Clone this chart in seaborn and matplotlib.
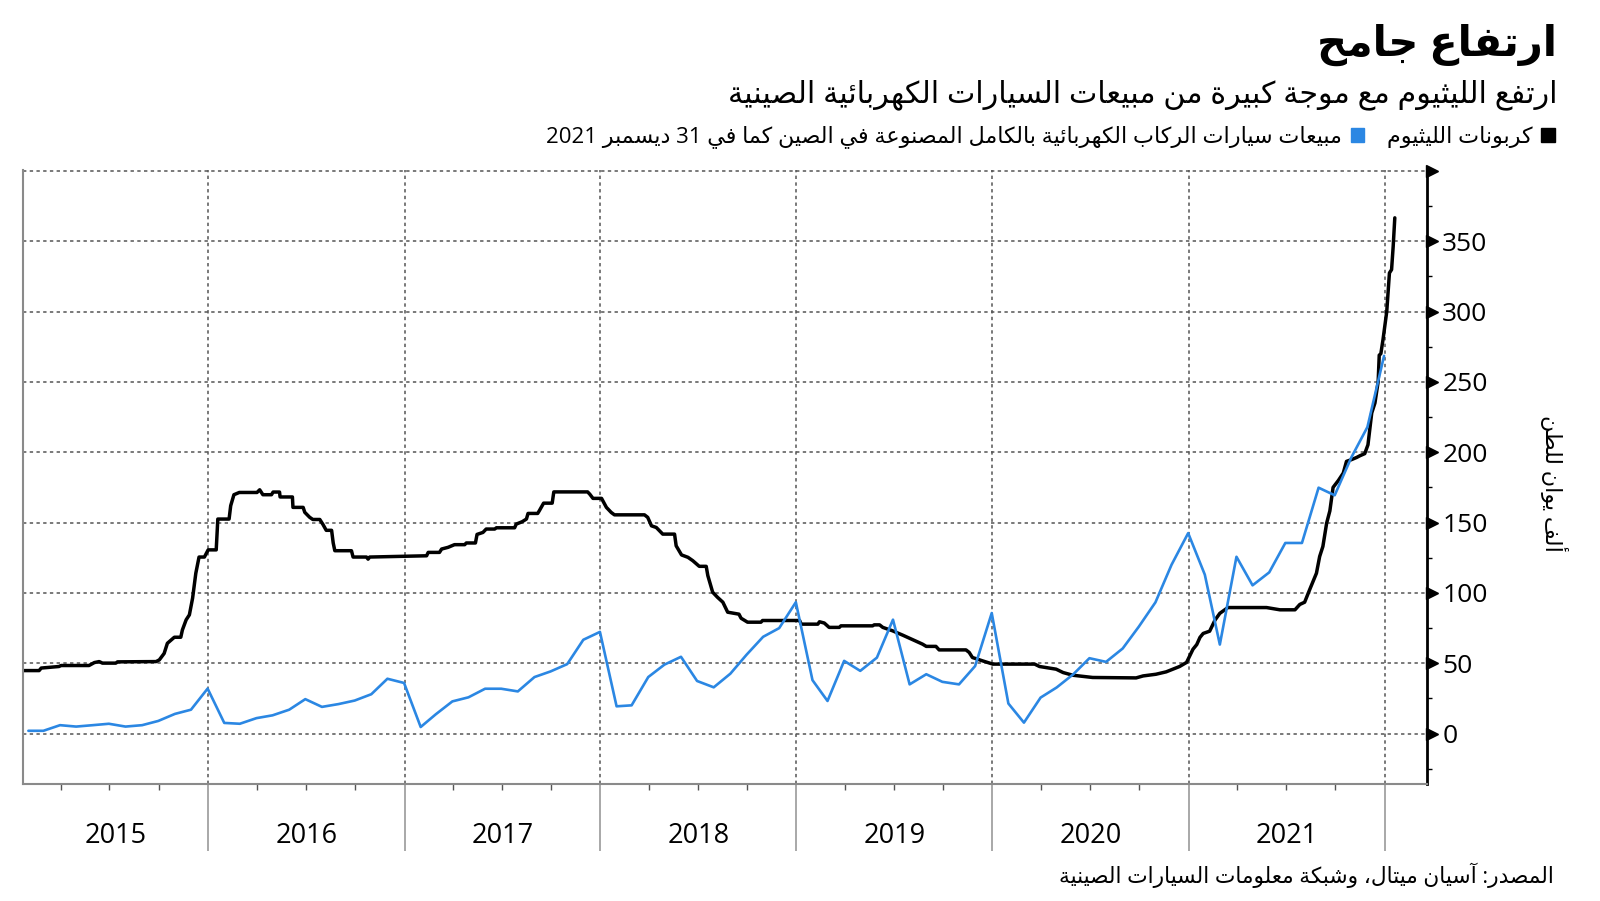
import re
import numpy as np
import pandas as pd
import seaborn as sns
import matplotlib
matplotlib.use("Agg")
import matplotlib.pyplot as plt
import matplotlib.dates as mdates
from matplotlib.patches import Patch
from matplotlib.ticker import FixedLocator, NullFormatter
from matplotlib.transforms import offset_copy

# --- data -------------------------------------------------------------
# monthly EV passenger car sales (thousands), Jan 2015 .. Dec 2021
ev_months = pd.date_range("2015-01-31", "2021-12-31", freq="ME")
ev_sales = [
    2, 2, 6, 5, 6, 7, 5, 6, 9, 14, 17, 32,
    7.6, 7, 11, 13, 17, 24.5, 19, 21, 23.5, 28, 39, 36,
    4.7, 13.7, 22.9, 25.8, 31.9, 31.9, 30, 40.2, 44.2, 49.4, 66.7, 72.3,
    19.4, 20.1, 40.2, 49, 54.6, 37.4, 32.9, 42.6, 56, 68.8, 75, 93.4,
    38, 23.2, 51.7, 44.6, 54, 81, 35, 42.2, 36.8, 35, 48, 85.7,
    21.4, 7.8, 25.6, 32.8, 42.2, 53.6, 51, 60.5, 76, 93.3, 120, 142.5,
    113, 63.3, 125.7, 105.4, 114.6, 135.5, 135.5, 174.8, 169.4, 196.3, 217.9, 268.5,
]

# lithium carbonate price (thousand yuan / ton), change points
lith_dates = [
    "2015-01-21", "2015-02-20", "2015-02-24", "2015-03-29", "2015-04-02", "2015-05-24",
    "2015-06-03", "2015-06-12", "2015-06-18", "2015-07-13", "2015-07-16", "2015-09-26",
    "2015-10-02", "2015-10-11", "2015-10-17", "2015-10-30", "2015-11-11", "2015-11-14",
    "2015-11-21", "2015-11-27", "2015-12-03", "2015-12-09", "2015-12-15", "2015-12-25",
    "2016-01-01", "2016-01-16", "2016-01-19", "2016-02-09", "2016-02-12", "2016-02-18",
    "2016-02-28", "2016-04-01", "2016-04-06", "2016-04-12", "2016-04-28", "2016-05-01",
    "2016-05-13", "2016-05-14", "2016-06-06", "2016-06-07", "2016-06-26", "2016-06-29",
    "2016-07-08", "2016-07-14", "2016-07-27", "2016-08-02", "2016-08-08", "2016-08-18",
    "2016-08-21", "2016-08-24", "2016-09-24", "2016-09-27", "2016-10-22", "2016-10-25",
    "2016-10-28", "2016-12-23", "2017-02-11", "2017-02-14", "2017-03-07", "2017-03-11",
    "2017-03-23", "2017-04-04", "2017-04-23", "2017-04-26", "2017-05-13", "2017-05-16",
    "2017-05-27", "2017-06-02", "2017-06-18", "2017-06-21", "2017-07-25", "2017-07-28",
    "2017-08-08", "2017-08-16", "2017-08-19", "2017-09-06", "2017-09-09", "2017-09-17",
    "2017-10-03", "2017-10-06", "2017-12-08", "2017-12-12", "2017-12-18", "2018-01-03",
    "2018-01-07", "2018-01-12", "2018-01-21", "2018-01-27", "2018-03-24", "2018-03-30",
    "2018-04-06", "2018-04-15", "2018-04-27", "2018-05-19", "2018-05-22", "2018-06-01",
    "2018-06-13", "2018-06-22", "2018-07-04", "2018-07-17", "2018-07-20", "2018-07-29",
    "2018-08-07", "2018-08-17", "2018-08-26", "2018-09-16", "2018-09-20", "2018-10-02",
    "2018-10-27", "2018-10-30", "2019-01-07", "2019-01-10", "2019-02-10", "2019-02-13",
    "2019-02-22", "2019-03-03", "2019-03-22", "2019-03-25", "2019-05-23", "2019-05-26",
    "2019-06-05", "2019-06-11", "2019-06-29", "2019-07-18", "2019-08-06", "2019-08-24",
    "2019-08-31", "2019-09-18", "2019-09-24", "2019-11-13", "2019-11-19", "2019-11-25",
    "2019-12-14", "2020-01-02", "2020-03-20", "2020-03-29", "2020-04-29", "2020-05-12",
    "2020-05-30", "2020-07-06", "2020-09-25", "2020-10-08", "2020-11-01", "2020-11-20",
    "2020-12-15", "2020-12-28", "2021-01-09", "2021-01-16", "2021-01-22", "2021-01-28",
    "2021-02-09", "2021-02-19", "2021-02-28", "2021-03-15", "2021-05-26", "2021-06-20",
    "2021-07-18", "2021-07-27", "2021-08-05", "2021-08-15", "2021-08-27", "2021-09-02",
    "2021-09-08", "2021-09-15", "2021-09-21", "2021-09-27", "2021-10-07", "2021-10-16",
    "2021-10-22", "2021-10-31", "2021-11-10", "2021-11-16", "2021-11-25", "2021-12-01",
    "2021-12-08", "2021-12-14", "2021-12-20", "2021-12-22", "2021-12-25", "2021-12-29",
    "2022-01-05", "2022-01-10", "2022-01-14", "2022-01-17", "2022-01-20",
]
lith_price = [
    44.8, 44.8, 46.6, 47.7, 48.4, 48.4,
    50.5, 51.2, 50.1, 50.1, 51.0, 51.2,
    52.4, 57.0, 64.2, 68.5, 68.5, 73.7,
    80.9, 84.4, 96.3, 114.0, 125.5, 125.5,
    130.6, 130.6, 152.5, 152.5, 162.0, 169.8,
    171.4, 171.4, 173.3, 169.8, 169.8, 171.7,
    171.7, 168.2, 168.2, 160.8, 160.8, 157.3,
    153.8, 152.2, 152.2, 148.6, 144.5, 144.5,
    135.5, 130.0, 130.0, 125.5, 125.5, 124.0,
    125.5, 126.0, 126.4, 128.8, 128.8, 131.2,
    132.4, 134.3, 134.3, 135.5, 135.5, 141.6,
    143.0, 145.4, 145.4, 146.3, 146.3, 148.9,
    150.6, 152.5, 156.5, 156.5, 158.4, 163.8,
    163.8, 171.8, 171.8, 170.2, 167.2, 167.2,
    164.3, 160.8, 157.2, 155.5, 155.5, 153.7,
    147.7, 146.5, 141.8, 141.8, 133.5, 127.0,
    125.3, 122.9, 118.9, 118.9, 112.3, 100.5,
    96.9, 93.4, 86.3, 84.9, 82.0, 79.2,
    79.2, 80.4, 80.4, 77.8, 77.8, 79.5,
    78.6, 75.5, 75.5, 76.6, 76.6, 77.3,
    77.3, 75.5, 73.1, 70.0, 66.7, 63.6,
    62.0, 62.0, 59.5, 59.5, 57.7, 54.1,
    51.7, 49.4, 49.4, 47.7, 45.8, 43.4,
    41.5, 39.9, 39.6, 41.0, 42.2, 43.9,
    47.7, 50.6, 60.0, 63.3, 68.4, 71.2,
    72.8, 80.7, 85.5, 89.6, 89.6, 88.0,
    88.0, 91.8, 93.4, 102.9, 114.0, 125.9,
    133.0, 149.6, 158.3, 175.0, 180.0, 185.2,
    193.5, 194.7, 196.3, 197.5, 199.0, 205.3,
    227.9, 235.0, 250.2, 269.0, 270.0, 280.0,
    300.0, 327.4, 329.8, 346.4, 366.6,
]

years = [2015, 2016, 2017, 2018, 2019, 2020, 2021]
y_ticks = [0, 50, 100, 150, 200, 250, 300, 350, 400]
y_tick_labels = ["0", "50", "100", "150", "200", "250", "300", "350", ""]

title = "ارتفاع جامح"
subtitle = "ارتفع الليثيوم مع موجة كبيرة من مبيعات السيارات الكهربائية الصينية"
label_lith = "كربونات الليثيوم"
label_ev = "مبيعات سيارات الركاب الكهربائية بالكامل المصنوعة في الصين كما في 31 ديسمبر 2021"
y_label = "ألف يوان للطن"
source = "المصدر: آسيان ميتال، وشبكة معلومات السيارات الصينية"

BLUE = "#2b87e3"

# --- minimal arabic shaping (matplotlib has no text shaping) ----------
DUAL = {"ئ": 0xFE89, "ب": 0xFE8F, "ت": 0xFE95, "ث": 0xFE99, "ج": 0xFE9D, "ح": 0xFEA1,
        "خ": 0xFEA5, "س": 0xFEB1, "ش": 0xFEB5, "ص": 0xFEB9, "ض": 0xFEBD, "ط": 0xFEC1,
        "ظ": 0xFEC5, "ع": 0xFEC9, "غ": 0xFECD, "ف": 0xFED1, "ق": 0xFED5, "ك": 0xFED9,
        "ل": 0xFEDD, "م": 0xFEE1, "ن": 0xFEE5, "ه": 0xFEE9, "ي": 0xFEF1}
RIGHT = {"آ": 0xFE81, "أ": 0xFE83, "ؤ": 0xFE85, "إ": 0xFE87, "ا": 0xFE8D, "ة": 0xFE93,
         "د": 0xFEA9, "ذ": 0xFEAB, "ر": 0xFEAD, "ز": 0xFEAF, "و": 0xFEED, "ى": 0xFEEF}
LAMALEF = {"آ": 0xFEF5, "أ": 0xFEF7, "إ": 0xFEF9, "ا": 0xFEFB}


def shape(text):
    units = []
    i = 0
    while i < len(text):
        ch = text[i]
        if ch == "ل" and i + 1 < len(text) and text[i + 1] in LAMALEF:
            units.append(("R", LAMALEF[text[i + 1]]))
            i += 2
            continue
        if ch in DUAL:
            units.append(("D", DUAL[ch]))
        elif ch in RIGHT:
            units.append(("R", RIGHT[ch]))
        else:
            units.append(("U", ch))
        i += 1
    out = []
    for k, (kind, base) in enumerate(units):
        if kind == "U":
            out.append(base)
            continue
        prev_join = k > 0 and units[k - 1][0] == "D"
        next_join = kind == "D" and k + 1 < len(units) and units[k + 1][0] in ("D", "R")
        if prev_join and next_join:
            off = 3
        elif prev_join:
            off = 1
        elif next_join:
            off = 2
        else:
            off = 0
        out.append(chr(base + off))
    return "".join(out)


def visual(text):
    runs = re.findall(r"[0-9]+|[^0-9]+", shape(text))
    return "".join(r if r.isdigit() else r[::-1] for r in reversed(runs))


# --- plot -------------------------------------------------------------
sns.set_theme(style="white")
plt.rcParams["font.family"] = ["Open Sans", "DejaVu Sans"]
plt.rcParams["text.color"] = "black"

fig = plt.figure(figsize=(16, 9.01), dpi=100)
ax = fig.add_axes([23 / 1600, 1 - 783.7 / 901, (1427 - 23) / 1600, (783.7 - 170) / 901])

lith = pd.DataFrame({"date": pd.to_datetime(lith_dates), "price": lith_price})
ev = pd.DataFrame({"date": ev_months, "sales": ev_sales})

sns.lineplot(data=lith, x="date", y="price", color="black", linewidth=2.5, ax=ax)
sns.lineplot(data=ev, x="date", y="sales", color=BLUE, linewidth=1.9, ax=ax)

x_left, x_right = pd.Timestamp("2015-01-21"), pd.Timestamp("2022-03-21")
ax.set_xlim(x_left, x_right)
ax.set_ylim(-35.6, 400.6)
ax.set_xlabel("")
ax.set_ylabel("")

# y axis on the right
ax.yaxis.tick_right()
ax.set_yticks(y_ticks)
ax.set_yticklabels(y_tick_labels)
ax.yaxis.set_minor_locator(FixedLocator(np.arange(-25, 400, 50)))
ax.tick_params(axis="y", which="major", length=0, labelsize=19, pad=11, labelcolor="black")
ax.tick_params(axis="y", which="minor", right=True, length=3.5, width=1, color="black")
tri = offset_copy(ax.get_yaxis_transform(), fig=fig, x=5, y=0, units="dots")
ax.plot([1] * len(y_ticks), y_ticks, marker=">", ls="none", ms=9, color="black",
        transform=tri, clip_on=False)

# x axis: long separators at year boundaries, quarter ticks, year names centred
ax.xaxis.set_major_locator(mdates.YearLocator())
ax.xaxis.set_major_formatter(NullFormatter())
ax.xaxis.set_minor_locator(mdates.MonthLocator([4, 7, 10]))
ax.xaxis.set_minor_formatter(NullFormatter())
ax.tick_params(axis="x", which="major", bottom=True, length=48, width=1.2, color="#9a9a9a")
ax.tick_params(axis="x", which="minor", bottom=True, length=4, width=1, color="#555555")
year_y = offset_copy(ax.get_xaxis_transform(), fig=fig, x=0, y=-52, units="dots")
for yr in years:
    lo = max(pd.Timestamp(f"{yr}-01-01"), x_left)
    hi = pd.Timestamp(f"{yr + 1}-01-01")
    ax.text(lo + (hi - lo) / 2, 0, str(yr), transform=year_y, ha="center", va="center",
            fontsize=19.5, color="black")

ax.grid(True, which="major", color="#555555", linestyle=(0, (2.2, 2.2)), linewidth=1.1)

ax.spines["top"].set_visible(False)
for side in ("left", "bottom"):
    ax.spines[side].set_color("#8a8a8a")
    ax.spines[side].set_linewidth(1.5)
ax.spines["right"].set_color("black")
ax.spines["right"].set_linewidth(2)

# texts
fig.text(1557 / 1600, 1 - 45 / 901, visual(title), ha="right", va="center",
         fontsize=30, fontweight="bold", color="black")
fig.text(1557 / 1600, 1 - 95 / 901, visual(subtitle), ha="right", va="center",
         fontsize=21.7, color="black")
fig.legend(handles=[Patch(color=BLUE), Patch(color="black")],
           labels=[visual(label_ev), visual(label_lith)],
           loc="center right", bbox_to_anchor=(1555 / 1600, 1 - 137 / 901), ncol=2,
           markerfirst=False, frameon=False, fontsize=16, handlelength=0.62,
           handleheight=0.62, handletextpad=0.4, columnspacing=1.0,
           borderaxespad=0, borderpad=0, labelcolor="black")
fig.text(1554 / 1600, 1 - 483 / 901, visual(y_label), rotation=270, ha="center",
         va="center", fontsize=16, color="black")
fig.text(1554 / 1600, 1 - 875 / 901, visual(source), ha="right", va="center",
         fontsize=15.7, color="black")

fig.savefig("out.png", dpi=100)
